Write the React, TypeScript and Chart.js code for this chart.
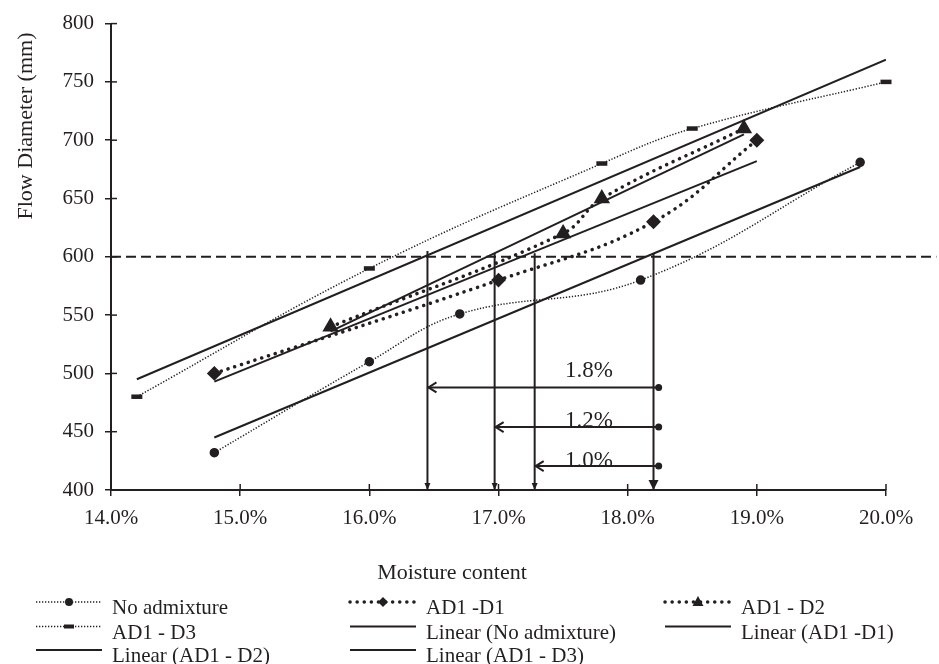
import React, { useEffect, useRef } from 'react';
import { Chart, registerables } from 'chart.js';

Chart.register(...registerables);

const INK = '#231f20';
const FONT = '"Liberation Serif", "Times New Roman", serif';

// ---- data (moisture content in %, flow diameter in mm) ----
const noAdmixX = [14.8, 16.0, 16.7, 18.1, 19.8];
const noAdmixY = [432, 510, 551, 580, 681];
const d1X = [14.8, 17.0, 18.2, 19.0];
const d1Y = [500, 580, 630, 700];
const d2X = [15.7, 17.5, 17.8, 18.9];
const d2Y = [540, 620, 650, 710];
const d3X = [14.2, 16.0, 17.8, 18.5, 20.0];
const d3Y = [480, 590, 680, 710, 750];

// linear trend line end points
const linNoX = [14.8, 19.8];
const linNoY = [445, 677];
const linD1X = [14.8, 19.0];
const linD1Y = [493, 682];
const linD2X = [15.7, 18.9];
const linD2Y = [536, 705];
const linD3X = [14.2, 20.0];
const linD3Y = [495, 769];

// reference line at 600 mm
const refX = [14.0, 20.39];
const refY = [600, 600];

// vertical arrows (moisture at 600 mm) and horizontal difference arrows
const vArrowX = [16.45, 16.97, 17.28, 18.2];
const vArrowTop = [605, 603, 603, 603];
const vArrowBottom = 400;
const hArrowFrom = 18.24;
const hArrowTo = [16.45, 16.97, 17.28];
const hArrowY = [488, 454, 420.5];
const diffLabels = ['1.8%', '1.2%', '1.0%'];
const diffLabelX = 17.7;
const diffLabelY = [497, 454, 420];

const xTicks = { min: 14, max: 20, step: 1 };
const yTicks = { min: 400, max: 800, step: 50 };

const seriesLabels = [
  'No admixture',
  'AD1 -D1',
  'AD1 - D2',
  'AD1 - D3',
  'Linear (No admixture)',
  'Linear (AD1 -D1)',
  'Linear (AD1 - D2)',
  'Linear (AD1 - D3)',
];

type Kind = 'thin' | 'bigdot' | 'solid';
const seriesKinds: Kind[] = ['thin', 'bigdot', 'bigdot', 'thin', 'solid', 'solid', 'solid', 'solid'];
const seriesMarkers = ['circle', 'diamond', 'triangle', 'bar', '', '', '', ''];

const THIN_DASH = [1.3, 1.7];
const BIG_DASH = [0.1, 7];

function pts(xs: number[], ys: number[]) {
  return xs.map((x, i) => ({ x, y: ys[i] }));
}

function drawMarker(ctx: CanvasRenderingContext2D, kind: string, x: number, y: number) {
  ctx.save();
  ctx.setLineDash([]);
  ctx.fillStyle = INK;
  ctx.strokeStyle = INK;
  ctx.beginPath();
  if (kind === 'circle') {
    ctx.arc(x, y, 4, 0, Math.PI * 2);
    ctx.fill();
  } else if (kind === 'diamond') {
    ctx.moveTo(x, y - 5);
    ctx.lineTo(x + 5, y);
    ctx.lineTo(x, y + 5);
    ctx.lineTo(x - 5, y);
    ctx.closePath();
    ctx.fill();
  } else if (kind === 'triangle') {
    ctx.moveTo(x, y - 6);
    ctx.lineTo(x + 5.5, y + 4);
    ctx.lineTo(x - 5.5, y + 4);
    ctx.closePath();
    ctx.fill();
  } else if (kind === 'bar') {
    ctx.fillRect(x - 5, y - 2, 10, 4);
  }
  ctx.restore();
}

function applyKind(ctx: CanvasRenderingContext2D, kind: Kind) {
  if (kind === 'thin') {
    ctx.lineWidth = 1.5;
    ctx.lineCap = 'butt';
    ctx.setLineDash(THIN_DASH);
  } else if (kind === 'bigdot') {
    ctx.lineWidth = 3.5;
    ctx.lineCap = 'round';
    ctx.setLineDash(BIG_DASH);
  } else {
    ctx.lineWidth = 2;
    ctx.lineCap = 'butt';
    ctx.setLineDash([]);
  }
}

const annotPlugin = {
  id: 'annot',
  afterDatasetsDraw(chart: any) {
    const { ctx, chartArea: ca } = chart;
    const x = chart.scales.x;
    const y = chart.scales.y;
    ctx.save();
    ctx.strokeStyle = INK;
    ctx.fillStyle = INK;

    // inward halves of tick marks
    ctx.lineWidth = 1.5;
    ctx.setLineDash([]);
    x.ticks.forEach((t: any) => {
      const px = x.getPixelForValue(t.value);
      ctx.beginPath();
      ctx.moveTo(px, ca.bottom);
      ctx.lineTo(px, ca.bottom - 6);
      ctx.stroke();
    });
    y.ticks.forEach((t: any) => {
      const py = y.getPixelForValue(t.value);
      ctx.beginPath();
      ctx.moveTo(ca.left, py);
      ctx.lineTo(ca.left + 6, py);
      ctx.stroke();
    });

    // vertical arrow heads
    vArrowX.forEach((vx, i) => {
      const px = x.getPixelForValue(vx);
      const py = y.getPixelForValue(vArrowBottom);
      const big = i === vArrowX.length - 1;
      const hw = big ? 5 : 3;
      const h = big ? 10 : 7;
      ctx.beginPath();
      ctx.moveTo(px, py);
      ctx.lineTo(px - hw, py - h);
      ctx.lineTo(px + hw, py - h);
      ctx.closePath();
      ctx.fill();
    });

    // horizontal arrows: heads and end dots
    hArrowY.forEach((hy, i) => {
      const py = y.getPixelForValue(hy);
      const tip = x.getPixelForValue(hArrowTo[i]);
      const end = x.getPixelForValue(hArrowFrom);
      ctx.lineWidth = 2;
      ctx.beginPath();
      ctx.moveTo(tip + 9, py - 5);
      ctx.lineTo(tip + 1, py);
      ctx.lineTo(tip + 9, py + 5);
      ctx.stroke();
      ctx.beginPath();
      ctx.arc(end, py, 3.5, 0, Math.PI * 2);
      ctx.fill();
    });

    // difference labels
    ctx.font = `23px ${FONT}`;
    ctx.textAlign = 'center';
    ctx.textBaseline = 'alphabetic';
    diffLabels.forEach((t, i) => {
      ctx.fillText(t, x.getPixelForValue(diffLabelX), y.getPixelForValue(diffLabelY[i]));
    });

    // axis titles
    ctx.font = `22px ${FONT}`;
    ctx.fillText('Moisture content', 452, 579);
    ctx.save();
    ctx.translate(32, 126);
    ctx.rotate(-Math.PI / 2);
    ctx.fillText('Flow Diameter (mm)', 0, 0);
    ctx.restore();

    // legend
    const colX = [36, 350, 665];
    const rowY = [602, 626.5, 650];
    const sampleW = 66;
    ctx.font = `21px ${FONT}`;
    ctx.textAlign = 'left';
    seriesLabels.forEach((label, i) => {
      const col = i % 3;
      const row = Math.floor(i / 3);
      const sx = colX[col];
      const sy = rowY[row];
      ctx.save();
      ctx.strokeStyle = INK;
      applyKind(ctx, seriesKinds[i]);
      ctx.beginPath();
      ctx.moveTo(sx, sy);
      ctx.lineTo(sx + sampleW, sy);
      ctx.stroke();
      ctx.restore();
      if (seriesMarkers[i]) drawMarker(ctx, seriesMarkers[i], sx + sampleW / 2, sy);
      ctx.fillStyle = INK;
      ctx.fillText(label, sx + sampleW + 10, sy + 12);
    });

    ctx.restore();
  },
};

export default function App() {
  const ref = useRef<HTMLCanvasElement>(null);

  useEffect(() => {
    const canvas = ref.current;
    if (!canvas) return;
    Chart.defaults.font.family = FONT;

    const thin = {
      borderColor: INK,
      borderWidth: 1.5,
      borderDash: THIN_DASH,
      tension: 0.4,
      fill: false,
      clip: false,
      pointBackgroundColor: INK,
      pointBorderColor: INK,
    };
    const bigdot = {
      borderColor: INK,
      borderWidth: 3.5,
      borderDash: BIG_DASH,
      borderCapStyle: 'round' as const,
      tension: 0.4,
      fill: false,
      clip: false,
      pointBackgroundColor: INK,
      pointBorderColor: INK,
    };
    const solid = {
      borderColor: INK,
      borderWidth: 2,
      pointRadius: 0,
      fill: false,
      tension: 0,
    };

    const datasets: any[] = [
      { ...thin, label: seriesLabels[0], data: pts(noAdmixX, noAdmixY), pointStyle: 'circle', pointRadius: 4 },
      { ...bigdot, label: seriesLabels[1], data: pts(d1X, d1Y), pointStyle: 'rectRot', pointRadius: 5 },
      { ...bigdot, label: seriesLabels[2], data: pts(d2X, d2Y), pointStyle: 'triangle', pointRadius: 6 },
      {
        ...thin,
        label: seriesLabels[3],
        data: pts(d3X, d3Y),
        pointStyle: 'line',
        pointRadius: 5.5,
        pointBorderWidth: 4.5,
      },
      { ...solid, label: seriesLabels[4], data: pts(linNoX, linNoY) },
      { ...solid, label: seriesLabels[5], data: pts(linD1X, linD1Y) },
      { ...solid, label: seriesLabels[6], data: pts(linD2X, linD2Y) },
      { ...solid, label: seriesLabels[7], data: pts(linD3X, linD3Y) },
      {
        label: 'ref600',
        data: pts(refX, refY),
        borderColor: INK,
        borderWidth: 2,
        borderDash: [10, 5],
        pointRadius: 0,
        clip: false,
      },
      ...vArrowX.map((vx, i) => ({
        label: 'v' + i,
        data: [
          { x: vx, y: vArrowTop[i] },
          { x: vx, y: vArrowBottom },
        ],
        borderColor: INK,
        borderWidth: 2,
        pointRadius: 0,
      })),
      ...hArrowY.map((hy, i) => ({
        label: 'h' + i,
        data: [
          { x: hArrowFrom, y: hy },
          { x: hArrowTo[i], y: hy },
        ],
        borderColor: INK,
        borderWidth: 2,
        pointRadius: 0,
      })),
    ];

    const chart = new Chart(canvas, {
      type: 'line',
      data: { datasets },
      options: {
        responsive: false,
        animation: false,
        events: [],
        layout: { padding: { left: 0, right: 53, top: 22, bottom: 134 } },
        plugins: {
          legend: { display: false },
          tooltip: { enabled: false },
        },
        scales: {
          x: {
            type: 'linear',
            min: xTicks.min,
            max: xTicks.max,
            ticks: {
              stepSize: xTicks.step,
              autoSkip: false,
              maxRotation: 0,
              padding: 10,
              color: INK,
              font: { family: FONT, size: 21 },
              callback: (v: any) => Number(v).toFixed(1) + '%',
            },
            grid: { drawOnChartArea: false, drawTicks: true, tickLength: 6, color: INK, lineWidth: 1.5 },
            border: { color: INK, width: 2 },
            afterFit: (s: any) => {
              s.height = 40;
            },
          },
          y: {
            type: 'linear',
            min: yTicks.min,
            max: yTicks.max,
            ticks: {
              stepSize: yTicks.step,
              autoSkip: false,
              padding: 11,
              color: INK,
              font: { family: FONT, size: 21 },
            },
            grid: { drawOnChartArea: false, drawTicks: true, tickLength: 6, color: INK, lineWidth: 1.5 },
            border: { color: INK, width: 2 },
            afterFit: (s: any) => {
              s.width = 111;
            },
          },
        },
      },
      plugins: [annotPlugin],
    });

    return () => chart.destroy();
  }, []);

  return (
    <div style={{ position: 'fixed', left: 0, top: 0, width: 939, height: 664, background: '#fff' }}>
      <canvas ref={ref} width={939} height={664} style={{ width: 939, height: 664, display: 'block' }} />
    </div>
  );
}
